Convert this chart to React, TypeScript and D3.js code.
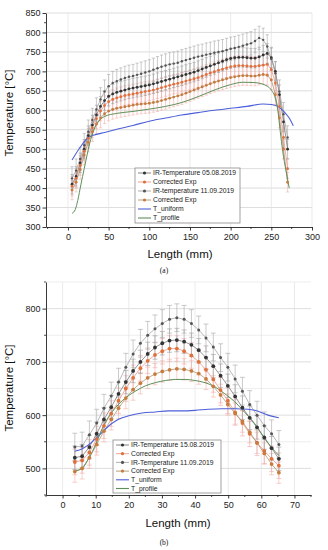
import React, { useEffect, useRef } from 'react';
import * as d3 from 'd3';

// ---------- panel (a) ----------
const lenA = [5, 10, 15, 20, 25, 30, 35, 40, 45, 50, 55, 60, 65, 70, 75, 80, 85, 90, 95, 100,
  105, 110, 115, 120, 125, 130, 135, 140, 145, 150, 155, 160, 165, 170, 175, 180, 185, 190, 195, 200,
  205, 210, 215, 220, 225, 230, 235, 240, 245, 250, 255, 260, 265, 270];
const irA1 = [410, 430, 465, 500, 535, 562, 588, 610, 625, 636, 642, 646, 649, 652, 655, 657, 659, 661, 663, 665,
  668, 671, 674, 677, 680, 683, 686, 689, 692, 695, 698, 702, 706, 710, 714, 718, 722, 726, 730, 733,
  735, 736, 736, 735, 734, 734, 737, 742, 746, 735, 700, 640, 570, 500];
const corrA1 = [405, 425, 458, 495, 528, 555, 578, 598, 612, 622, 628, 632, 635, 638, 640, 642, 644, 646, 648, 650,
  652, 655, 658, 661, 664, 667, 669, 672, 675, 678, 681, 684, 688, 692, 696, 699, 703, 706, 709, 712,
  714, 715, 715, 714, 713, 713, 715, 716, 718, 705, 670, 610, 530, 450];
const irA2 = [425, 445, 475, 510, 545, 575, 602, 628, 648, 662, 670, 675, 679, 683, 686, 688, 691, 694, 697, 700,
  704, 708, 712, 715, 718, 720, 722, 726, 729, 732, 735, 738, 740, 743, 745, 748, 750, 752, 755, 758,
  760, 763, 766, 769, 772, 778, 786, 781, 764, 732, 695, 648, 590, 530];
const corrA2 = [395, 415, 448, 485, 518, 545, 565, 580, 591, 598, 602, 605, 607, 609, 611, 613, 615, 616, 617, 618,
  620, 622, 625, 628, 631, 634, 637, 640, 644, 648, 652, 656, 660, 664, 668, 672, 675, 678, 681, 684,
  686, 688, 689, 689, 688, 688, 690, 692, 690, 678, 640, 580, 500, 415];
const uniLenA = [5, 15, 25, 35, 45, 60, 80, 100, 120, 140, 160, 180, 200, 220, 240, 250, 258, 265, 272, 277];
const uniA = [472, 505, 530, 538, 543, 551, 561, 572, 580, 588, 594, 600, 605, 610, 616, 615, 610, 598, 580, 560];
const profLenA = [5, 9, 12, 16, 20, 24, 28, 33, 38, 45, 60, 80, 100, 120, 140, 160, 180, 200, 215, 230, 245, 250, 255, 258, 261, 264, 268, 272];
const profA = [335, 345, 368, 410, 450, 490, 525, 555, 572, 584, 592, 597, 603, 610, 620, 635, 652, 666, 672, 671, 662, 652, 630, 600, 545, 495, 445, 400];
const xTicksA = [0, 50, 100, 150, 200, 250, 300];
const yTicksA = [300, 350, 400, 450, 500, 550, 600, 650, 700, 750, 800, 850];
const legendA = ['IR-Temperature 05.08.2019', 'Corrected Exp', 'IR-temperature 11.09.2019', 'Corrected Exp', 'T_uniform', 'T_profile'];

// ---------- panel (b) ----------
const lenB = [3.7, 5.9, 8.1, 10.3, 12.5, 14.7, 16.9, 19.1, 21.3, 23.5, 25.7, 27.9, 30.1, 32.3, 34.5,
  36.7, 38.9, 41.1, 43.3, 45.5, 47.7, 49.9, 52.1, 54.3, 56.5, 58.7, 60.9, 63.1, 65.3];
const irB1 = [520, 523, 540, 565, 592, 615, 640, 662, 683, 700, 715, 727, 735, 740, 741,
  738, 732, 722, 708, 692, 674, 655, 635, 614, 595, 577, 558, 538, 518];
const corrB1 = [512, 515, 530, 555, 580, 603, 627, 650, 670, 688, 702, 713, 720, 725, 725,
  720, 712, 700, 685, 667, 647, 627, 605, 585, 565, 548, 533, 518, 505];
const irB2 = [540, 542, 563, 585, 613, 636, 662, 690, 715, 735, 750, 762, 772, 780, 783,
  780, 772, 760, 745, 728, 708, 690, 668, 645, 620, 600, 580, 565, 545];
const corrB2 = [494, 500, 520, 545, 570, 592, 613, 632, 648, 660, 670, 677, 682, 685, 687,
  686, 683, 678, 668, 654, 638, 620, 603, 588, 568, 548, 528, 508, 492];
const uniLenB = [3.7, 6, 8, 10, 12, 14, 16, 18, 20, 24, 28, 32, 36, 40, 44, 48, 52, 56, 58, 60, 62, 65.3];
const uniB = [532, 537, 545, 556, 568, 580, 589, 595, 599, 604, 606, 608, 608, 609, 611, 612, 612, 611, 609, 605, 600, 595];
const profLenB = [3.7, 5.9, 8, 10, 12, 14, 16, 18, 20, 22, 25, 28, 31, 34, 37, 40, 43, 46, 49, 52, 55, 58, 61, 63, 65.3];
const profB = [495, 500, 520, 545, 575, 598, 614, 627, 637, 645, 655, 661, 665, 667, 667, 665, 661, 653, 640, 625, 605, 584, 556, 540, 524];
const xTicksB = [0, 10, 20, 30, 40, 50, 60, 70];
const yTicksB = [500, 600, 700, 800];
const legendB = ['IR-Temperature 15.08.2019', 'Corrected Exp', 'IR-Temperature 11.09.2019', 'Corrected Exp', 'T_uniform', 'T_profile'];

const FONT = 'Liberation Sans, Arial, sans-serif';
const BLUE = '#4d5fd8';
const GREEN = '#5e8f5a';

// marker/line styles per legend slot
const styles = [
  { marker: '#333', line: '#666', err: '#9a9a9a' },
  { marker: '#e0703a', line: '#e58a78', err: '#f4a8a8' },
  { marker: '#555', line: '#9a9a9a', err: '#a8a8a8' },
  { marker: '#c87b3c', line: '#a08a62', err: '#f4b0a8' },
];

function drawPanel(svg, p) {
  const { x, y } = p;
  const g = svg.append('g');

  // grid
  g.append('g').selectAll('line').data(p.hGrid).join('line')
    .attr('x1', x.range()[0]).attr('x2', x.range()[1])
    .attr('y1', d => y(d)).attr('y2', d => y(d))
    .attr('stroke', d => (p.hGridMajor(d) ? '#cfcfcf' : '#e6e6e6')).attr('stroke-width', 0.7);
  g.append('g').selectAll('line').data(p.vGrid).join('line')
    .attr('x1', d => x(d)).attr('x2', d => x(d))
    .attr('y1', y.range()[0]).attr('y2', y.range()[1])
    .attr('stroke', '#e2e2e2').attr('stroke-width', 0.7);

  // error bars
  const order = [1, 3, 0, 2];
  order.forEach(i => {
    const s = p.series[i];
    const eg = g.append('g').attr('stroke', styles[i].err).attr('stroke-width', 0.6);
    s.y.forEach((v, k) => {
      const cx = x(p.len[k]);
      eg.append('line').attr('x1', cx).attr('x2', cx).attr('y1', y(v - s.err)).attr('y2', y(v + s.err));
      eg.append('line').attr('x1', cx - p.cap).attr('x2', cx + p.cap).attr('y1', y(v - s.err)).attr('y2', y(v - s.err));
      eg.append('line').attr('x1', cx - p.cap).attr('x2', cx + p.cap).attr('y1', y(v + s.err)).attr('y2', y(v + s.err));
    });
  });

  // series lines
  const line = d3.line().x(d => x(d[0])).y(d => y(d[1]));
  p.series.forEach((s, i) => {
    g.append('path').datum(p.len.map((l, k) => [l, s.y[k]]))
      .attr('d', line).attr('fill', 'none').attr('stroke', styles[i].line).attr('stroke-width', 0.7);
  });

  // T_uniform / T_profile
  const smooth = d3.line().x(d => x(d[0])).y(d => y(d[1])).curve(d3.curveMonotoneX);
  g.append('path').datum(p.uniLen.map((l, k) => [l, p.uni[k]]))
    .attr('d', smooth).attr('fill', 'none').attr('stroke', BLUE).attr('stroke-width', 1.1);
  g.append('path').datum(p.profLen.map((l, k) => [l, p.prof[k]]))
    .attr('d', smooth).attr('fill', 'none').attr('stroke', GREEN).attr('stroke-width', 1);

  // markers
  p.series.forEach((s, i) => {
    g.append('g').selectAll('circle').data(s.y).join('circle')
      .attr('cx', (d, k) => x(p.len[k])).attr('cy', d => y(d))
      .attr('r', s.r).attr('fill', styles[i].marker);
  });

  // axes
  const xAxis = d3.axisBottom(x).tickValues(p.xTicks).tickSize(3.5).tickSizeOuter(0).tickPadding(3);
  const xa = g.append('g').attr('transform', `translate(0,${y.range()[0]})`).call(xAxis);
  const yAxis = d3.axisLeft(y).tickValues(p.yTicks).tickSize(3.5).tickSizeOuter(0).tickPadding(2);
  const ya = g.append('g').attr('transform', `translate(${x.range()[0]},0)`).call(yAxis);
  [xa, ya].forEach(a => {
    a.selectAll('text').attr('font-family', FONT).attr('font-size', 9).attr('fill', '#222');
    a.selectAll('line,path').attr('stroke', '#222').attr('stroke-width', 0.9);
  });
  g.append('g').selectAll('line').data(p.xMinor).join('line')
    .attr('x1', d => x(d)).attr('x2', d => x(d))
    .attr('y1', y.range()[0]).attr('y2', y.range()[0] + 2).attr('stroke', '#222').attr('stroke-width', 0.8);
  g.append('g').selectAll('line').data(p.yMinor).join('line')
    .attr('y1', d => y(d)).attr('y2', d => y(d))
    .attr('x1', x.range()[0]).attr('x2', x.range()[0] - 2).attr('stroke', '#222').attr('stroke-width', 0.8);

  // titles
  g.append('text').attr('transform', `translate(${p.yTitle[0]},${p.yTitle[1]}) rotate(-90)`)
    .attr('text-anchor', 'middle').attr('font-family', FONT).attr('font-size', 11.5).attr('fill', '#111')
    .text('Temperature [°C]');
  g.append('text').attr('x', p.xTitle[0]).attr('y', p.xTitle[1])
    .attr('text-anchor', 'middle').attr('font-family', FONT).attr('font-size', 11.5).attr('fill', '#111')
    .text('Length (mm)');
  g.append('text').attr('x', p.tag[0]).attr('y', p.tag[1])
    .attr('text-anchor', 'middle').attr('font-family', 'Liberation Serif, serif').attr('font-size', 7.5).attr('fill', '#111')
    .text(p.tagText);

  // legend
  const L = p.legendBox;
  const lg = g.append('g');
  lg.append('rect').attr('x', L.x).attr('y', L.y).attr('width', L.w).attr('height', L.h)
    .attr('fill', '#fff').attr('stroke', '#8a8a8a').attr('stroke-width', 0.8);
  p.legend.forEach((name, i) => {
    const ry = L.y + L.row0 + i * L.rowH;
    const col = i < 4 ? styles[i].line : i === 4 ? BLUE : GREEN;
    lg.append('line').attr('x1', L.x + 3).attr('x2', L.x + 16).attr('y1', ry).attr('y2', ry)
      .attr('stroke', i < 4 ? col : col).attr('stroke-width', i < 4 ? 0.8 : 1.1);
    if (i < 4) {
      lg.append('circle').attr('cx', L.x + 9.5).attr('cy', ry).attr('r', 1.6).attr('fill', styles[i].marker);
    }
    lg.append('text').attr('x', L.x + 18).attr('y', ry).attr('dy', '0.35em')
      .attr('font-family', FONT).attr('font-size', 6.8).attr('fill', '#222').text(name);
  });
}

export default function App() {
  const ref = useRef<SVGSVGElement>(null);

  useEffect(() => {
    const svg = d3.select(ref.current);
    svg.selectAll('*').remove();

    drawPanel(svg, {
      x: d3.scaleLinear().domain([-27, 300]).range([46, 312]),
      y: d3.scaleLinear().domain([300, 850]).range([227, 13]),
      len: lenA,
      series: [
        { y: irA1, err: 25, r: 1.4 },
        { y: corrA1, err: 25, r: 1.4 },
        { y: irA2, err: 30, r: 1.2 },
        { y: corrA2, err: 25, r: 1.4 },
      ],
      uniLen: uniLenA, uni: uniA, profLen: profLenA, prof: profA,
      xTicks: xTicksA, yTicks: yTicksA,
      xMinor: d3.range(-25, 300, 50), yMinor: d3.range(325, 850, 50),
      hGrid: yTicksA.slice(1), hGridMajor: () => true, vGrid: xTicksA,
      cap: 1.6,
      yTitle: [13, 113], xTitle: [180, 258], tag: [164, 273], tagText: '(a)',
      legend: legendA,
      legendBox: { x: 135, y: 168, w: 105, h: 55, row0: 5, rowH: 9 },
    });

    drawPanel(svg, {
      x: d3.scaleLinear().domain([-5, 75]).range([46, 311]),
      y: d3.scaleLinear().domain([450, 850]).range([495, 282]),
      len: lenB,
      series: [
        { y: irB1, err: 22, r: 1.9 },
        { y: corrB1, err: 24, r: 1.9 },
        { y: irB2, err: 26, r: 1.5 },
        { y: corrB2, err: 20, r: 1.9 },
      ],
      uniLen: uniLenB, uni: uniB, profLen: profLenB, prof: profB,
      xTicks: xTicksB, yTicks: yTicksB,
      xMinor: d3.range(-5, 76, 10), yMinor: d3.range(450, 851, 100),
      hGrid: d3.range(500, 851, 50), hGridMajor: d => d % 100 === 0, vGrid: xTicksB,
      cap: 2.5,
      yTitle: [13, 388], xTitle: [178, 527], tag: [164, 545], tagText: '(b)',
      legend: legendB,
      legendBox: { x: 113, y: 440, w: 108, h: 53, row0: 5, rowH: 8.7 },
    });
  }, []);

  return (
    <svg ref={ref} width={328} height={550}
      style={{ position: 'absolute', left: 0, top: 0, background: '#fff' }} />
  );
}
